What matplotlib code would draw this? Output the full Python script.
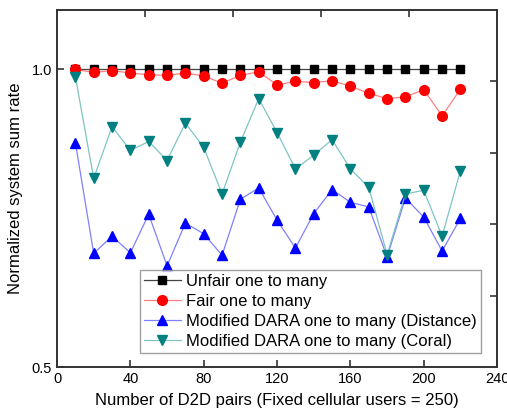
import numpy as np
from matplotlib import pyplot as plt

# D2D pairs
pairs = [10, 20, 30, 40, 50, 60, 70, 80, 90, 100, 110,
         120, 130, 140, 150, 160, 170, 180, 190, 200, 210, 220]

unfair = [1.0] * len(pairs)
fair = [1.0, 0.995, 0.998, 0.994, 0.991, 0.990, 0.994, 0.989, 0.977, 0.990, 0.996,
        0.974, 0.980, 0.978, 0.981, 0.972, 0.960, 0.951, 0.954, 0.966, 0.922, 0.967]
dara_dist = [0.877, 0.691, 0.720, 0.692, 0.757, 0.670, 0.742, 0.724, 0.688, 0.782, 0.801,
             0.747, 0.700, 0.758, 0.798, 0.777, 0.769, 0.685, 0.784, 0.752, 0.695, 0.750]
dara_coral = [0.988, 0.817, 0.904, 0.864, 0.879, 0.847, 0.910, 0.869, 0.791, 0.878, 0.951,
              0.894, 0.833, 0.856, 0.882, 0.833, 0.802, 0.689, 0.791, 0.797, 0.720, 0.830]

x_ticks = [0, 40, 80, 120, 160, 200, 240]
y_ticks = [0.5, 1.0]
# unlabelled ticks on the opposite axes
top_ticks = [48, 96, 144, 192]
right_ticks = [0.619, 0.740, 0.859, 0.980]

SERIES = [
    (unfair, "Unfair one to many", "#444444", "black", "s", 6),
    (fair, "Fair one to many", "#ff8080", "red", "o", 7),
    (dara_dist, "Modified DARA one to many (Distance)", "#8080ff", "blue", "^", 7),
    (dara_coral, "Modified DARA one to many (Coral)", "#7fc4c4", "#008080", "v", 7),
]

plt.rcParams.update({
    "font.family": ["Liberation Sans", "DejaVu Sans"],
    "font.size": 10.5,
})

fig = plt.figure(figsize=(5.07, 4.13), dpi=100)
ax = fig.add_axes([0.1125, 0.111, 0.868, 0.865])

for y, label, lc, mc, m, ms in SERIES:
    ax.plot(pairs, y, color=lc, linewidth=0.9, marker=m, markersize=ms,
            markerfacecolor=mc, markeredgecolor=mc, label=label)

ax.set_xlim(0, 240)
ax.set_ylim(0.5, 1.1)
ax.set_xticks(x_ticks)
ax.set_yticks(y_ticks)
ax.set_yticklabels(["0.5", "1.0"])
ax.tick_params(direction="in", length=5, width=1.2, color="#333333", labelsize=10.5)
ax.set_xlabel("Number of D2D pairs (Fixed cellular users = 250)", fontsize=12, labelpad=5)
ax.set_ylabel("Normalized system sum rate", fontsize=12, labelpad=6)

for sp in ax.spines.values():
    sp.set_linewidth(1.4)
    sp.set_color("#333333")

axr = ax.twinx()
axr.set_ylim(ax.get_ylim())
axr.set_yticks(right_ticks)
axr.set_yticklabels([])
axr.tick_params(direction="in", length=5, width=1.2, color="#333333")

axt = ax.twiny()
axt.set_xlim(ax.get_xlim())
axt.set_xticks(top_ticks)
axt.set_xticklabels([])
axt.tick_params(direction="in", length=5, width=1.2, color="#333333")
for a in (axr, axt):
    for sp in a.spines.values():
        sp.set_visible(False)

leg = ax.legend(loc="lower right", bbox_to_anchor=(0.964, 0.039), fontsize=12,
                frameon=True, fancybox=False, edgecolor="#888888",
                handlelength=2.2, borderpad=0.25, labelspacing=0.3,
                handletextpad=0.35, borderaxespad=0)
leg.get_frame().set_linewidth(1.0)

fig.savefig("out.png", dpi=100)
